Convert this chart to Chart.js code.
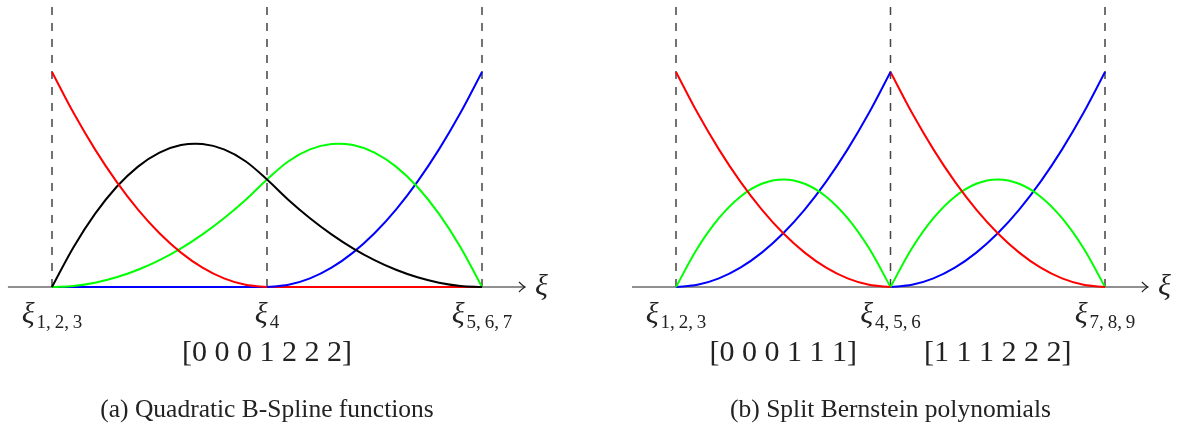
<!DOCTYPE html>
<html lang="en">
<head>
  <meta charset="UTF-8">
  <title>B-Spline vs split Bernstein</title>
  <script src="https://cdn.jsdelivr.net/npm/chart.js"></script>
  <style>
    body { margin: 0; background: #fff; }
    #wrap { position: relative; width: 1183px; height: 425px; }
    canvas { position: absolute; top: 0; }
  </style>
</head>
<body>
  <div id="wrap">
    <canvas id="left" width="591" height="425" style="left:0"></canvas>
    <canvas id="right" width="592" height="425" style="left:591px"></canvas>
  </div>

  <script>
    // (a) quadratic B-splines, knots [0 0 0 1 2 2 2]
    const xiLeft    = [0, 0.1, 0.2, 0.3, 0.4, 0.5, 0.6, 0.7, 0.8, 0.9, 1, 1.1, 1.2, 1.3, 1.4, 1.5, 1.6, 1.7, 1.8, 1.9, 2];
    const redLeft   = [1, 0.81, 0.64, 0.49, 0.36, 0.25, 0.16, 0.09, 0.04, 0.01, 0, 0, 0, 0, 0, 0, 0, 0, 0, 0, 0];
    const blackLeft = [0, 0.185, 0.34, 0.465, 0.56, 0.625, 0.66, 0.665, 0.64, 0.585, 0.5, 0.405, 0.32, 0.245, 0.18, 0.125, 0.08, 0.045, 0.02, 0.005, 0];
    const greenLeft = [0, 0.005, 0.02, 0.045, 0.08, 0.125, 0.18, 0.245, 0.32, 0.405, 0.5, 0.585, 0.64, 0.665, 0.66, 0.625, 0.56, 0.465, 0.34, 0.185, 0];
    const blueLeft  = [0, 0, 0, 0, 0, 0, 0, 0, 0, 0, 0, 0.01, 0.04, 0.09, 0.16, 0.25, 0.36, 0.49, 0.64, 0.81, 1];

    // (b) Bernstein polynomials on each element [0,1] and [1,2]
    const xiElem1   = [0, 0.1, 0.2, 0.3, 0.4, 0.5, 0.6, 0.7, 0.8, 0.9, 1];
    const xiElem2   = [1, 1.1, 1.2, 1.3, 1.4, 1.5, 1.6, 1.7, 1.8, 1.9, 2];
    const redElem   = [1, 0.81, 0.64, 0.49, 0.36, 0.25, 0.16, 0.09, 0.04, 0.01, 0];
    const greenElem = [0, 0.18, 0.32, 0.42, 0.48, 0.5, 0.48, 0.42, 0.32, 0.18, 0];
    const blueElem  = [0, 0.01, 0.04, 0.09, 0.16, 0.25, 0.36, 0.49, 0.64, 0.81, 1];

    // knots and labels
    const knotsLeft  = [0, 1, 2];
    const knotSubsLeft  = ['1,\u20092,\u20093', '4', '5,\u20096,\u20097'];
    const knotsRight = [0, 1, 2];
    const knotSubsRight = ['1,\u20092,\u20093', '4,\u20095,\u20096', '7,\u20098,\u20099'];
    const vectorPosLeft  = [1];
    const vectorsLeft    = ['[0 0 0 1 2 2 2]'];
    const vectorPosRight = [0.5, 1.5];
    const vectorsRight   = ['[0 0 0 1 1 1]', '[1 1 1 2 2 2]'];
    const captionLeft  = '(a) Quadratic B-Spline functions';
    const captionRight = '(b) Split Bernstein polynomials';

    const SERIF = '"Liberation Serif", "DejaVu Serif", serif';

    function pts(xs, ys) {
      return xs.map((x, i) => ({ x: x, y: ys[i] }));
    }

    function line(data, color) {
      return {
        data: data,
        borderColor: color,
        borderWidth: 2,
        pointRadius: 0,
        fill: false,
        tension: 0.35,
        clip: false
      };
    }

    // tex-like knot label: xi with subscript, centred on x
    function knotLabel(ctx, x, y, sub) {
      ctx.font = 'italic 30px ' + SERIF;
      const wm = ctx.measureText('ξ').width;
      ctx.font = '19px ' + SERIF;
      const ws = ctx.measureText(sub).width;
      let x0 = x - (wm + ws + 2) / 2;
      ctx.textAlign = 'left';
      ctx.textBaseline = 'alphabetic';
      ctx.font = 'italic 30px ' + SERIF;
      ctx.fillText('ξ', x0, y);
      ctx.font = '19px ' + SERIF;
      ctx.fillText(sub, x0 + wm + 2, y + 5);
    }

    function decorations(opts) {
      return {
        id: 'decor',
        beforeDatasetsDraw(chart) {
          const ctx = chart.ctx;
          const xs = chart.scales.x, ys = chart.scales.y;
          const y0 = ys.getPixelForValue(0);
          ctx.save();
          // dashed knot lines, drawn upward from the axis
          ctx.strokeStyle = '#444';
          ctx.lineWidth = 1.5;
          ctx.setLineDash([8, 8]);
          opts.knots.forEach(k => {
            const px = xs.getPixelForValue(k);
            ctx.beginPath();
            ctx.moveTo(px, y0);
            ctx.lineTo(px, 0);
            ctx.stroke();
          });
          ctx.setLineDash([]);
          // axis with arrow
          const a = xs.getPixelForValue(-0.205);
          const b = xs.getPixelForValue(2.2);
          ctx.strokeStyle = '#222';
          ctx.lineWidth = 1.2;
          ctx.beginPath();
          ctx.moveTo(a, y0);
          ctx.lineTo(b, y0);
          ctx.stroke();
          ctx.beginPath();
          ctx.moveTo(b - 6, y0 - 5);
          ctx.quadraticCurveTo(b - 2, y0 - 1, b, y0);
          ctx.quadraticCurveTo(b - 2, y0 + 1, b - 6, y0 + 5);
          ctx.stroke();
          ctx.restore();
        },
        afterDraw(chart) {
          const ctx = chart.ctx;
          const xs = chart.scales.x, ys = chart.scales.y;
          const y0 = ys.getPixelForValue(0);
          ctx.save();
          ctx.fillStyle = '#222';
          // axis name
          ctx.font = 'italic 30px ' + SERIF;
          ctx.textAlign = 'left';
          ctx.textBaseline = 'alphabetic';
          ctx.fillText('ξ', xs.getPixelForValue(2.2) + 10, y0 + 8);
          // knot labels
          opts.knots.forEach((k, i) => knotLabel(ctx, xs.getPixelForValue(k), y0 + 36, opts.subs[i]));
          // knot vectors
          ctx.font = '30px ' + SERIF;
          ctx.textAlign = 'center';
          ctx.textBaseline = 'middle';
          opts.vecPos.forEach((p, i) => ctx.fillText(opts.vecs[i], xs.getPixelForValue(p), y0 + 66));
          // caption
          ctx.font = '25.5px ' + SERIF;
          ctx.fillText(opts.caption, xs.getPixelForValue(1), y0 + 123);
          ctx.restore();
        }
      };
    }

    function baseOptions(padLeft, padRight) {
      return {
        responsive: false,
        animation: false,
        layout: { padding: { left: padLeft, right: padRight, top: 72, bottom: 138 } },
        plugins: { legend: { display: false }, tooltip: { enabled: false } },
        scales: {
          x: { type: 'linear', display: false, min: 0, max: 2 },
          y: { display: false, min: 0, max: 1 }
        }
      };
    }

    new Chart(document.getElementById('left'), {
      type: 'line',
      data: {
        datasets: [
          line(pts(xiLeft.slice(0, 11), redLeft.slice(0, 11)), '#ff0000'),
          line(pts(xiLeft, blackLeft), '#000000'),
          line(pts(xiLeft, greenLeft), '#00ff00'),
          line(pts(xiLeft.slice(0, 11), blueLeft.slice(0, 11)), '#0000ff'),
          line(pts(xiLeft.slice(10), blueLeft.slice(10)), '#0000ff'),
          line(pts(xiLeft.slice(10), redLeft.slice(10)), '#ff0000')
        ]
      },
      options: baseOptions(52, 109),
      plugins: [decorations({
        knots: knotsLeft, subs: knotSubsLeft,
        vecPos: vectorPosLeft, vecs: vectorsLeft, caption: captionLeft
      })]
    });

    new Chart(document.getElementById('right'), {
      type: 'line',
      data: {
        datasets: [
          line(pts(xiElem1, redElem), '#ff0000'),
          line(pts(xiElem1, greenElem), '#00ff00'),
          line(pts(xiElem1, blueElem), '#0000ff'),
          line(pts(xiElem2, redElem), '#ff0000'),
          line(pts(xiElem2, greenElem), '#00ff00'),
          line(pts(xiElem2, blueElem), '#0000ff')
        ]
      },
      options: baseOptions(85, 78),
      plugins: [decorations({
        knots: knotsRight, subs: knotSubsRight,
        vecPos: vectorPosRight, vecs: vectorsRight, caption: captionRight
      })]
    });
  </script>
</body>
</html>
